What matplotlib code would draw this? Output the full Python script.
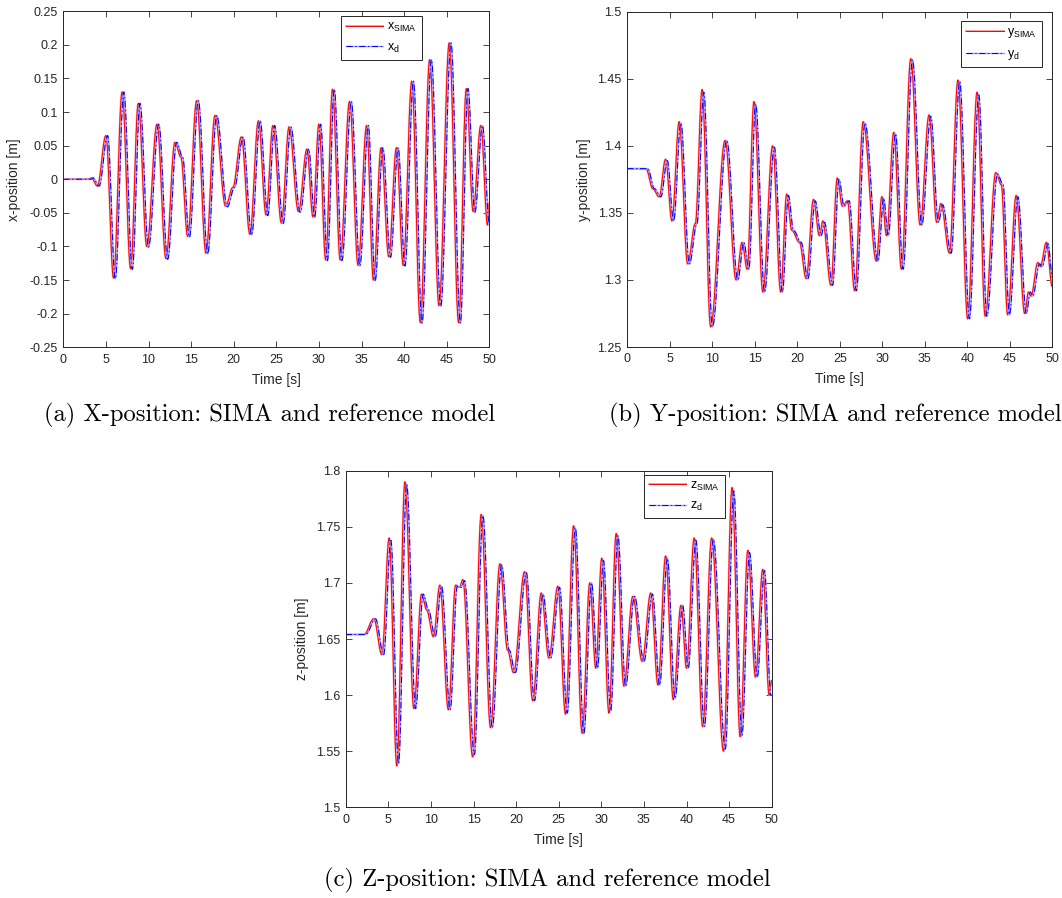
import numpy as np
import matplotlib
matplotlib.use("Agg")
import matplotlib.pyplot as plt

# ---- data (extrema / kinks of each trace) ----
t_x_sima = [0, 3.0, 3.3, 4.0, 5.0, 5.9, 6.9, 7.9, 8.8, 9.8, 11.0, 12.05, 13.1, 13.8, 14.6,
            15.65, 16.75, 17.8, 19.05, 19.9, 20.9, 21.9, 22.9, 23.8, 24.6, 25.6, 26.5, 27.6,
            28.6, 29.3, 30.0, 30.8, 31.6, 32.5, 33.6, 34.6, 35.6, 36.4, 37.3, 38.2, 39.1, 39.9,
            40.9, 41.9, 43.0, 44.1, 45.3, 46.4, 47.3, 48.1, 49.0, 49.8, 50.0]
x_sima = [0, 0, 0.002, -0.01, 0.065, -0.147, 0.13, -0.133, 0.113, -0.10, 0.082, -0.118, 0.055,
          0.033, -0.085, 0.117, -0.11, 0.095, -0.04, -0.012, 0.063, -0.082, 0.087, -0.053, 0.08,
          -0.065, 0.078, -0.048, 0.045, -0.056, 0.082, -0.12, 0.134, -0.12, 0.116, -0.128, 0.08,
          -0.15, 0.047, -0.115, 0.047, -0.128, 0.146, -0.213, 0.178, -0.188, 0.203, -0.213,
          0.135, -0.048, 0.08, -0.068, -0.035]
t_x_d = [0, 3.2, 3.5, 4.2, 5.2, 6.1, 7.1, 8.1, 9.0, 10.0, 11.2, 12.25, 13.3, 14.0, 14.8,
         15.85, 16.95, 18.0, 19.25, 20.1, 21.1, 22.1, 23.1, 24.0, 24.8, 25.8, 26.7, 27.8,
         28.8, 29.5, 30.2, 31.0, 31.8, 32.7, 33.8, 34.8, 35.8, 36.6, 37.5, 38.4, 39.3, 40.1,
         41.1, 42.1, 43.2, 44.3, 45.5, 46.6, 47.5, 48.3, 49.2, 50.0]
x_d = [0, 0, 0.002, -0.01, 0.065, -0.148, 0.13, -0.134, 0.113, -0.101, 0.082, -0.119, 0.055,
       0.033, -0.086, 0.117, -0.111, 0.095, -0.041, -0.012, 0.063, -0.083, 0.087, -0.054, 0.08,
       -0.066, 0.078, -0.049, 0.045, -0.057, 0.082, -0.121, 0.134, -0.121, 0.116, -0.129, 0.08,
       -0.151, 0.047, -0.116, 0.047, -0.129, 0.146, -0.214, 0.178, -0.189, 0.203, -0.214,
       0.135, -0.049, 0.08, -0.066]

t_y_sima = [0, 2.2, 3.0, 3.75, 4.5, 5.25, 6.1, 7.1, 8.0, 8.8, 9.8, 11.5, 12.8, 13.5, 14.1, 14.9,
            15.95, 17.1, 18.05, 18.75, 19.35, 20.25, 21.05, 21.9, 22.6, 23.0, 23.95, 24.7, 25.3,
            25.9, 26.75, 27.75, 29.3, 29.95, 30.5, 31.35, 32.25, 33.35, 34.45, 35.5, 36.4, 36.9,
            37.9, 38.9, 40.05, 41.15, 42.1, 43.35, 44.0, 44.75, 45.75, 46.75, 47.2, 47.5, 48.3,
            48.6, 49.3, 50.0]
y_sima = [1.383, 1.383, 1.368, 1.362, 1.39, 1.344, 1.418, 1.312, 1.342, 1.442, 1.265, 1.404,
          1.30, 1.328, 1.308, 1.433, 1.291, 1.40, 1.291, 1.364, 1.337, 1.328, 1.301, 1.36, 1.333,
          1.344, 1.296, 1.376, 1.355, 1.359, 1.292, 1.418, 1.314, 1.362, 1.333, 1.41, 1.308,
          1.465, 1.341, 1.423, 1.343, 1.357, 1.32, 1.449, 1.271, 1.44, 1.273, 1.38, 1.371,
          1.274, 1.363, 1.275, 1.291, 1.288, 1.313, 1.31, 1.328, 1.295]
t_y_d = [0, 2.4, 3.2, 3.95, 4.7, 5.45, 6.3, 7.3, 8.2, 9.0, 10.0, 11.7, 13.0, 13.7, 14.3, 15.1,
         16.15, 17.3, 18.25, 18.95, 19.55, 20.45, 21.25, 22.1, 22.8, 23.2, 24.15, 24.9, 25.5,
         26.1, 26.95, 27.95, 29.5, 30.15, 30.7, 31.55, 32.45, 33.55, 34.65, 35.7, 36.6, 37.1,
         38.1, 39.1, 40.25, 41.35, 42.3, 43.55, 44.2, 44.95, 45.95, 46.95, 47.4, 47.7, 48.5,
         48.8, 49.5, 50.0]
y_d = [1.383, 1.383, 1.368, 1.362, 1.389, 1.344, 1.417, 1.312, 1.342, 1.44, 1.265, 1.404,
       1.30, 1.328, 1.308, 1.431, 1.291, 1.399, 1.291, 1.363, 1.337, 1.328, 1.301, 1.359, 1.333,
       1.343, 1.296, 1.375, 1.355, 1.359, 1.292, 1.417, 1.314, 1.361, 1.333, 1.409, 1.308,
       1.464, 1.341, 1.422, 1.343, 1.356, 1.32, 1.448, 1.271, 1.438, 1.273, 1.379, 1.371,
       1.274, 1.362, 1.275, 1.291, 1.288, 1.312, 1.31, 1.327, 1.302]

t_z_sima = [0, 2.15, 3.3, 4.25, 5.1, 6.0, 6.95, 8.0, 8.9, 9.5, 10.3, 11.05, 12.05, 12.9, 13.35,
            13.75, 14.9, 15.9, 17.0, 18.1, 19.0, 19.7, 21.0, 21.95, 22.95, 23.85, 24.9, 25.8,
            26.75, 27.75, 28.65, 29.35, 30.05, 30.9, 31.75, 32.65, 33.7, 34.8, 35.8, 36.65,
            37.55, 38.45, 39.35, 40.0, 40.9, 41.9, 42.95, 44.35, 45.35, 46.3, 47.2, 48.1, 48.95,
            49.7, 50.0]
z_sima = [1.654, 1.654, 1.668, 1.636, 1.74, 1.537, 1.79, 1.588, 1.69, 1.676, 1.652, 1.698,
          1.587, 1.698, 1.696, 1.703, 1.545, 1.761, 1.571, 1.717, 1.64, 1.62, 1.71, 1.595,
          1.691, 1.633, 1.697, 1.583, 1.751, 1.566, 1.70, 1.624, 1.722, 1.584, 1.744, 1.608,
          1.688, 1.63, 1.691, 1.609, 1.724, 1.596, 1.68, 1.624, 1.74, 1.572, 1.74, 1.55, 1.785,
          1.563, 1.729, 1.616, 1.712, 1.60, 1.613]
t_z_d = [0, 2.35, 3.5, 4.45, 5.3, 6.2, 7.15, 8.2, 9.1, 9.7, 10.5, 11.25, 12.25, 13.1, 13.55,
         13.95, 15.1, 16.1, 17.2, 18.3, 19.2, 19.9, 21.2, 22.15, 23.15, 24.05, 25.1, 26.0,
         26.95, 27.95, 28.85, 29.55, 30.25, 31.1, 31.95, 32.85, 33.9, 35.0, 36.0, 36.85,
         37.75, 38.65, 39.55, 40.2, 41.1, 42.1, 43.15, 44.55, 45.55, 46.5, 47.4, 48.3, 49.15,
         49.9, 50.0]
z_d = [1.654, 1.654, 1.668, 1.636, 1.738, 1.539, 1.788, 1.588, 1.69, 1.676, 1.652, 1.697,
       1.587, 1.697, 1.696, 1.702, 1.547, 1.76, 1.571, 1.716, 1.64, 1.62, 1.709, 1.595,
       1.69, 1.633, 1.696, 1.584, 1.749, 1.566, 1.70, 1.624, 1.72, 1.586, 1.742, 1.608,
       1.688, 1.63, 1.69, 1.609, 1.722, 1.597, 1.68, 1.624, 1.738, 1.572, 1.739, 1.552, 1.782,
       1.564, 1.727, 1.616, 1.711, 1.60, 1.60]

time_ticks = [0, 5, 10, 15, 20, 25, 30, 35, 40, 45, 50]
x_ticks = [-0.25, -0.2, -0.15, -0.1, -0.05, 0, 0.05, 0.1, 0.15, 0.2, 0.25]
x_tick_labels = ['-0.25', '-0.2', '-0.15', '-0.1', '-0.05', '0', '0.05', '0.1', '0.15', '0.2', '0.25']
y_ticks = [1.25, 1.3, 1.35, 1.4, 1.45, 1.5]
y_tick_labels = ['1.25', '1.3', '1.35', '1.4', '1.45', '1.5']
z_ticks = [1.5, 1.55, 1.6, 1.65, 1.7, 1.75, 1.8]
z_tick_labels = ['1.5', '1.55', '1.6', '1.65', '1.7', '1.75', '1.8']

captions = ['(a) X-position: SIMA and reference model',
            '(b) Y-position: SIMA and reference model',
            '(c) Z-position: SIMA and reference model']

plt.rcParams['font.family'] = ['Liberation Sans', 'DejaVu Sans']
plt.rcParams['mathtext.fontset'] = 'custom'
plt.rcParams['mathtext.rm'] = 'Liberation Sans'
INK = '#262626'
W, H = 1062, 898


def wave(tk, vk, n=30):
    # smooth half-cosine transitions between successive read-off extrema
    tk = np.asarray(tk, float)
    vk = np.asarray(vk, float)
    s = np.linspace(0, 1, n, endpoint=False)
    tt = (tk[:-1, None] + np.diff(tk)[:, None] * s).ravel()
    vv = (vk[:-1, None] + np.diff(vk)[:, None] * (1 - np.cos(np.pi * s)) / 2).ravel()
    return np.append(tt, tk[-1]), np.append(vv, vk[-1])


def panel(box, ts, vs, td, vd, ticks, tick_labels, ylab, sym, leg_anchor, ylab_x):
    l, r, t, b = box
    ax = fig.add_axes([l / W, 1 - b / H, (r - l) / W, (b - t) / H])
    tt, vv = wave(ts, vs)
    h1 = ax.plot(tt, vv, color='#ff9a9a', lw=1.4)[0]
    h2 = ax.plot(tt, vv, color='#ff0000', lw=0.7)[0]
    tt, vv = wave(td, vd)
    h3 = ax.plot(tt, vv, color='#9a9aff', lw=1.0)[0]
    h4 = ax.plot(tt, vv, color='#0000ff', lw=0.75, linestyle=(0, (6, 2.5, 1.2, 2.5)))[0]

    ax.set_xlim(0, 50)
    ax.set_ylim(ticks[0], ticks[-1])
    ax.set_xticks(time_ticks)
    ax.set_xticklabels([str(v) for v in time_ticks])
    ax.set_yticks(ticks)
    ax.set_yticklabels(tick_labels)
    ax.tick_params(direction='in', top=True, right=True, length=4, width=0.6,
                   colors=INK, labelsize=9)
    ax.tick_params(axis='x', pad=4.5)
    ax.tick_params(axis='y', pad=4)
    for sp in ax.spines.values():
        sp.set_color(INK)
        sp.set_linewidth(0.7)
    ax.set_xlabel('Time [s]', fontsize=10, color=INK)
    ax.set_ylabel(ylab, fontsize=10, color=INK)
    ax.xaxis.set_label_coords(0.5, -0.076)
    ax.yaxis.set_label_coords(ylab_x, 0.5)

    leg = ax.legend([(h1, h2), (h3, h4)],
                    [r'$\mathregular{%s_{SIMA}}$' % sym, r'$\mathregular{%s_{d}}$' % sym],
                    loc='upper right', bbox_to_anchor=leg_anchor, borderaxespad=0,
                    fontsize=9, handlelength=3.0, handletextpad=0.3, borderpad=0.4,
                    labelspacing=0.6, fancybox=False, framealpha=1)
    leg.get_frame().set_edgecolor(INK)
    leg.get_frame().set_linewidth(0.7)
    return ax


fig = plt.figure(figsize=(W / 100, H / 100), dpi=100)

panel((63.3, 489.3, 11.3, 347.3), t_x_sima, x_sima, t_x_d, x_d, x_ticks, x_tick_labels,
      'x-position [m]', 'x', (0.841, 0.986), -0.1)
panel((627.3, 1052.3, 11.7, 347.0), t_y_sima, y_sima, t_y_d, y_d, y_ticks, y_tick_labels,
      'y-position [m]', 'y', (0.976, 0.971), -0.086)
panel((345.7, 771.7, 470.7, 807.3), t_z_sima, z_sima, t_z_d, z_d, z_ticks, z_tick_labels,
      'z-position [m]', 'z', (0.890, 0.988), -0.086)

cap_pos = [(270, 415), (835, 415), (547, 880)]
for txt, (cx, cy) in zip(captions, cap_pos):
    fig.text(cx / W, 1 - cy / H, txt, family='cmr10', fontsize=17.7,
             ha='center', va='center', color='black')

fig.savefig('out.png', dpi=100)
